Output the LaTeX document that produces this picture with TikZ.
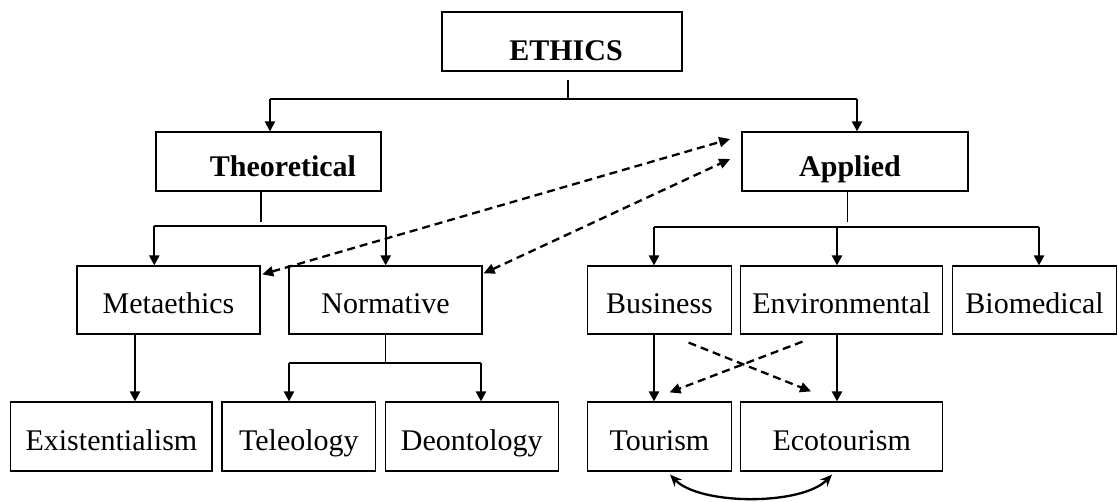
\documentclass[tikz,border=0pt]{standalone}
\usepackage{fontspec}
\setmainfont{Liberation Serif}
\usetikzlibrary{arrows.meta,calc}
\begin{document}
\begin{tikzpicture}[x=1pt,y=-1pt,
  box/.style={draw,line width=1.2pt,rectangle,inner sep=0pt,
    font=\fontsize{30}{36}\selectfont,text height=27pt,text depth=0pt},
  bbox/.style={box,font=\fontsize{30}{36}\selectfont\bfseries,text height=30pt},
  stem/.style={line width=1.1pt},
  bar/.style={line width=1.6pt},
  arr/.style={line width=2.3pt,-{Triangle[length=10pt,width=10pt]}},
  darr/.style={line width=2.3pt,dash pattern=on 8pt off 5pt,-{Triangle[length=11pt,width=10pt]}},
  ddarr/.style={line width=2.3pt,dash pattern=on 8pt off 5pt,{Triangle[length=11pt,width=10pt]}-{Triangle[length=11pt,width=10pt]}},
  carr/.style={line width=2.3pt,{Stealth[length=12pt,width=10pt]}-{Stealth[length=12pt,width=10pt]}}
]
\useasboundingbox (0,0) rectangle (1118,501);

% nodes
\node[bbox,minimum width=240pt,minimum height=59pt,text height=38pt] (ethics) at (562,41.5) {\hspace*{8pt}ETHICS};
\node[bbox,minimum width=225pt,minimum height=59pt] (theoretical) at (268.5,161.5) {\hspace*{29pt}Theoretical};
\node[bbox,minimum width=226pt,minimum height=59pt] (applied) at (855,161.5) {Applied\hspace*{10pt}};

\node[box,minimum width=183pt,minimum height=68pt] (metaethics) at (168.5,300) {Metaethics};
\node[box,minimum width=193pt,minimum height=68pt] (normative) at (385.5,300) {Normative};
\node[box,minimum width=144pt,minimum height=68pt] (business) at (659.5,300) {Business};
\node[box,minimum width=201.7pt,minimum height=68pt] (environmental) at (841.5,300) {Environmental};
\node[box,minimum width=163.8pt,minimum height=68pt] (biomedical) at (1034.6,300) {Biomedical};

\node[box,minimum width=201.3pt,minimum height=69pt] (existentialism) at (111.4,436.5) {Existentialism};
\node[box,minimum width=153.7pt,minimum height=69pt] (teleology) at (298.9,436.5) {Teleology};
\node[box,minimum width=173pt,minimum height=69pt] (deontology) at (471.8,436.5) {Deontology};
\node[box,minimum width=144.4pt,minimum height=69pt] (tourism) at (659.5,436.5) {Tourism};
\node[box,minimum width=202pt,minimum height=69pt] (ecotourism) at (841.7,436.5) {Ecotourism};

% ETHICS tree
\coordinate (ej) at (568,99);
\coordinate (eL) at (270,99);
\coordinate (eR) at (857,99);
\draw[stem] ($(ethics.south -| ej)+(0,8)$) -- (ej);
\draw[bar] (eL) -- (eR);
\draw[arr] (eL) -- (eL |- theoretical.north);
\draw[arr] (eR) -- (eR |- applied.north);

% Theoretical tree
\coordinate (tj) at (261,226);
\coordinate (tL) at (154.3,226);
\coordinate (tR) at (385.7,226);
\draw[stem] (theoretical.south -| tj) -- ($(tj)+(0,-4)$);
\draw[bar] (tL) -- (tR);
\draw[arr] (tL) -- (tL |- metaethics.north);
\draw[arr] (tR) -- (tR |- normative.north);

% Applied tree
\coordinate (aj) at (847.5,226.7);
\coordinate (aL) at (654,226.7);
\coordinate (aM) at (837,226.7);
\coordinate (aR) at (1039,226.7);
\draw[stem] (applied.south -| aj) -- ($(aj)+(0,-4.5)$);
\draw[bar] (aL) -- (aR);
\draw[arr] (aL) -- (aL |- business.north);
\draw[arr] (aM) -- (aM |- environmental.north);
\draw[arr] (aR) -- (aR |- biomedical.north);

% Metaethics -> Existentialism
\coordinate (mx) at (135,334);
\draw[arr] (metaethics.south -| mx) -- (existentialism.north -| mx);

% Normative tree
\coordinate (nj) at (385.3,363);
\coordinate (nL) at (289,363);
\coordinate (nR) at (481,363);
\draw[stem] (normative.south -| nj) -- (nj);
\draw[bar] (nL) -- (nR);
\draw[arr] (nL) -- (nL |- teleology.north);
\draw[arr] (nR) -- (nR |- deontology.north);

% Business -> Tourism, Environmental -> Ecotourism
\coordinate (bx) at (654,334);
\coordinate (vx) at (837,334);
\draw[arr] (business.south -| bx) -- (tourism.north -| bx);
\draw[arr] (environmental.south -| vx) -- (ecotourism.north -| vx);

% dashed links
\draw[ddarr] ([xshift=1.7pt,yshift=-9pt]metaethics.north east) -- ([xshift=-11.3pt,yshift=-7.6pt]applied.north west);
\draw[ddarr] ([xshift=1pt,yshift=-8pt]normative.north east) -- ([xshift=-11.3pt,yshift=-27.6pt]applied.north west);
\draw[darr] ([xshift=-43.5pt,yshift=-8pt]business.south east) -- ([xshift=71pt,yshift=10pt]ecotourism.north west);
\draw[darr] ([xshift=-39pt,yshift=-7pt]environmental.south) -- ([xshift=10pt,yshift=9pt]tourism.north);

% curved link
\draw[carr] ([xshift=10.5pt,yshift=-3pt]tourism.south) .. controls +(30,31) and +(-30,31) .. ([xshift=-9.7pt,yshift=-3pt]ecotourism.south);
\end{tikzpicture}
\end{document}
